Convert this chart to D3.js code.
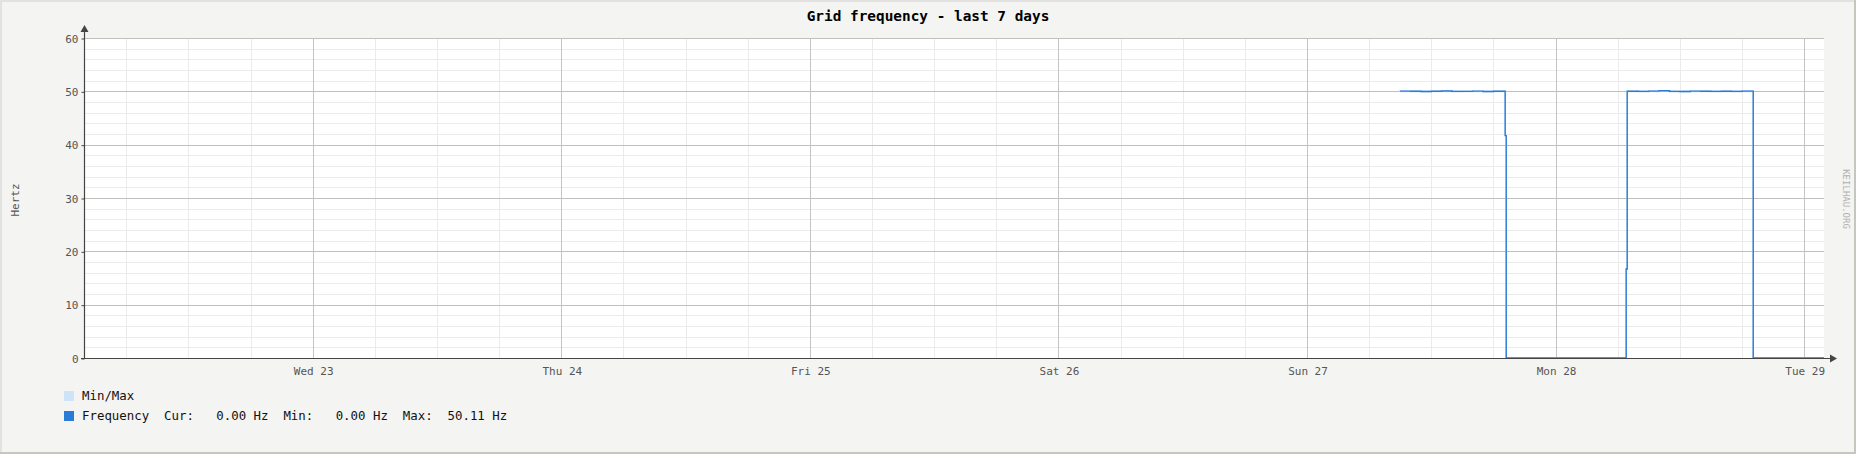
<!DOCTYPE html>
<html><head><meta charset="utf-8">
<script src="https://cdn.jsdelivr.net/npm/d3@7"></script>
<style>html,body{margin:0;padding:0;background:#f4f4f2;}svg{display:block;}</style>
</head><body>
<svg id="c" width="1856" height="454"></svg>
<script>
// ---- data ----
const title = "Grid frequency - last 7 days";
const yLabel = "Hertz";
const watermark = "KEILHAU.ORG";
const domainStart = "2024-10-22T01:55:00Z";
const domainEnd = "2024-10-29T01:55:00Z";
const yTicks = [0, 10, 20, 30, 40, 50, 60];
const times = [
  "2024-10-27T08:58:00Z","2024-10-27T10:00:00Z","2024-10-27T11:00:00Z","2024-10-27T12:00:00Z",
  "2024-10-27T13:00:00Z","2024-10-27T14:00:00Z","2024-10-27T15:00:00Z","2024-10-27T16:00:00Z",
  "2024-10-27T17:00:00Z","2024-10-27T18:00:00Z","2024-10-27T19:00:00Z","2024-10-27T19:08:00Z",
  "2024-10-27T19:14:00Z","2024-10-28T06:49:00Z","2024-10-28T06:55:00Z","2024-10-28T08:00:00Z",
  "2024-10-28T09:00:00Z","2024-10-28T10:00:00Z","2024-10-28T11:00:00Z","2024-10-28T12:00:00Z",
  "2024-10-28T13:00:00Z","2024-10-28T14:00:00Z","2024-10-28T15:00:00Z","2024-10-28T16:00:00Z",
  "2024-10-28T17:00:00Z","2024-10-28T18:00:00Z","2024-10-28T19:05:00Z","2024-10-29T01:55:00Z"
];
const freq = [50.03,50.01,49.98,50.02,50.05,49.99,50.00,50.03,49.97,50.02,50.01,41.7,
  0.00,16.7,50.02,49.99,50.04,50.11,50.00,49.98,50.03,50.01,49.99,50.02,50.00,50.04,0.00,0.00];
const fmin = [49.96,49.95,49.93,49.96,49.98,49.94,49.95,49.96,49.92,49.96,49.95,41.7,
  0.00,16.7,49.96,49.93,49.97,50.02,49.94,49.92,49.96,49.95,49.93,49.96,49.94,49.97,0.00,0.00];
const fmax = [50.08,50.06,50.04,50.07,50.09,50.05,50.06,50.08,50.03,50.07,50.06,41.7,
  0.00,16.7,50.08,50.05,50.09,50.11,50.06,50.04,50.08,50.06,50.05,50.07,50.06,50.09,0.00,0.00];
const legendItems = [
  {label: "Min/Max", color: "#cde3f8"},
  {label: "Frequency  Cur:   0.00 Hz  Min:   0.00 Hz  Max:  50.11 Hz", color: "#2a7bd8"}
];

// ---- drawing ----
const W = 1856, H = 454;
const L = 84, R = 1824, T = 38, B = 358;
const svg = d3.select("#c");
const mono = "'DejaVu Sans Mono', monospace";

svg.append("rect").attr("width", W).attr("height", H).attr("fill", "#f4f4f2");
// frame
svg.append("rect").attr("x",0).attr("y",0).attr("width",W).attr("height",2).attr("fill","#e2e2e0");
svg.append("rect").attr("x",0).attr("y",0).attr("width",2).attr("height",H).attr("fill","#e2e2e0");
svg.append("rect").attr("x",0).attr("y",H-2).attr("width",W).attr("height",2).attr("fill","#c6c6be");
svg.append("rect").attr("x",W-2).attr("y",0).attr("width",2).attr("height",H).attr("fill","#c6c6be");

const x = d3.scaleUtc().domain([new Date(domainStart), new Date(domainEnd)]).range([L, R]);
const y = d3.scaleLinear().domain([0, 60]).range([B, T]);

svg.append("rect").attr("x", L).attr("y", T).attr("width", R - L).attr("height", B - T).attr("fill", "#ffffff");

const g = svg.append("g");
// minor grid
const minorX = x.ticks(d3.utcHour.every(6)).filter(d => d.getUTCHours() !== 0);
g.selectAll(".mx").data(minorX).join("line")
  .attr("x1", d => Math.round(x(d)) + 0.5).attr("x2", d => Math.round(x(d)) + 0.5)
  .attr("y1", T).attr("y2", B).attr("stroke", "#ebebeb").attr("stroke-width", 1);
const minorY = d3.range(0, 61, 2).filter(v => v % 10 !== 0);
g.selectAll(".my").data(minorY).join("line")
  .attr("x1", L).attr("x2", R)
  .attr("y1", d => Math.round(y(d)) + 0.5).attr("y2", d => Math.round(y(d)) + 0.5)
  .attr("stroke", "#ebebeb").attr("stroke-width", 1);
// major grid
const majorX = x.ticks(d3.utcDay.every(1));
g.selectAll(".Mx").data(majorX).join("line")
  .attr("x1", d => Math.round(x(d)) + 0.5).attr("x2", d => Math.round(x(d)) + 0.5)
  .attr("y1", T).attr("y2", B).attr("stroke", "#c4c4c4").attr("stroke-width", 1);
g.selectAll(".My").data(yTicks).join("line")
  .attr("x1", L).attr("x2", R)
  .attr("y1", d => Math.round(y(d)) + 0.5).attr("y2", d => Math.round(y(d)) + 0.5)
  .attr("stroke", "#c0c0bc").attr("stroke-width", 1);

// data
const data = times.map((t, i) => ({t: new Date(t), v: freq[i], lo: fmin[i], hi: fmax[i]}));
const area = d3.area().x(d => x(d.t)).y0(d => y(d.lo)).y1(d => y(d.hi)).curve(d3.curveStepAfter);
svg.append("path").datum(data).attr("d", area).attr("fill", "#cde3f8").attr("stroke", "#cde3f8").attr("stroke-width", 1.5);
const line = d3.line().x(d => x(d.t)).y(d => y(d.v)).curve(d3.curveStepAfter);
svg.append("path").datum(data).attr("d", line).attr("fill", "none")
  .attr("stroke", "#2a7bd8").attr("stroke-width", 1.4);

// axes
const axisColor = "#444";
svg.append("line").attr("x1", L + 0.5).attr("x2", L + 0.5).attr("y1", B + 0.5).attr("y2", 31)
  .attr("stroke", axisColor).attr("stroke-width", 1.2);
svg.append("path").attr("d", `M${L+0.5},25 L${L-3.5},32 L${L+4.5},32 Z`).attr("fill", axisColor);
svg.append("line").attr("x1", L - 3).attr("x2", 1830).attr("y1", B + 0.5).attr("y2", B + 0.5)
  .attr("stroke", axisColor).attr("stroke-width", 1.2);
svg.append("path").attr("d", `M1837,${B+0.5} L1830,${B-3.5} L1830,${B+4.5} Z`).attr("fill", axisColor);

// y ticks + labels
const yAxis = d3.axisLeft(y).tickValues(yTicks).tickSize(3).tickPadding(3);
const ya = svg.append("g").attr("transform", `translate(${L + 0.5},0.5)`).call(yAxis);
ya.select(".domain").remove();
ya.selectAll(".tick line").attr("stroke", axisColor);
ya.selectAll(".tick text").attr("font-family", mono).attr("font-size", 11).attr("fill", "#555");

// x labels
const xAxis = d3.axisBottom(x).tickValues(majorX).tickSize(0).tickPadding(9)
  .tickFormat(d3.utcFormat("%a %d"));
const xa = svg.append("g").attr("transform", `translate(0.5,${B})`).call(xAxis);
xa.select(".domain").remove();
xa.selectAll(".tick text").attr("font-family", mono).attr("font-size", 11).attr("fill", "#555");

// title
svg.append("text").attr("x", W / 2).attr("y", 21).attr("text-anchor", "middle")
  .attr("font-family", mono).attr("font-size", 14.4).attr("font-weight", "bold").attr("fill", "#000")
  .text(title);
// y label
svg.append("text").attr("transform", "translate(19,200) rotate(-90)").attr("text-anchor", "middle")
  .attr("font-family", mono).attr("font-size", 11).attr("fill", "#555").text(yLabel);
// watermark
svg.append("text").attr("transform", "translate(1843,199) rotate(90)").attr("text-anchor", "middle")
  .attr("font-family", mono).attr("font-size", 9).attr("fill", "#b0b0b0").text(watermark);

// legend
const lg = svg.append("g");
legendItems.forEach((it, i) => {
  const yy = 391 + i * 20;
  lg.append("rect").attr("x", 64).attr("y", yy).attr("width", 10).attr("height", 10).attr("fill", it.color);
  lg.append("text").attr("x", 82).attr("y", yy + 9).attr("font-family", mono).attr("font-size", 12.4)
    .attr("fill", "#111").attr("xml:space", "preserve").style("white-space", "pre").text(it.label);
});
</script>
</body></html>
